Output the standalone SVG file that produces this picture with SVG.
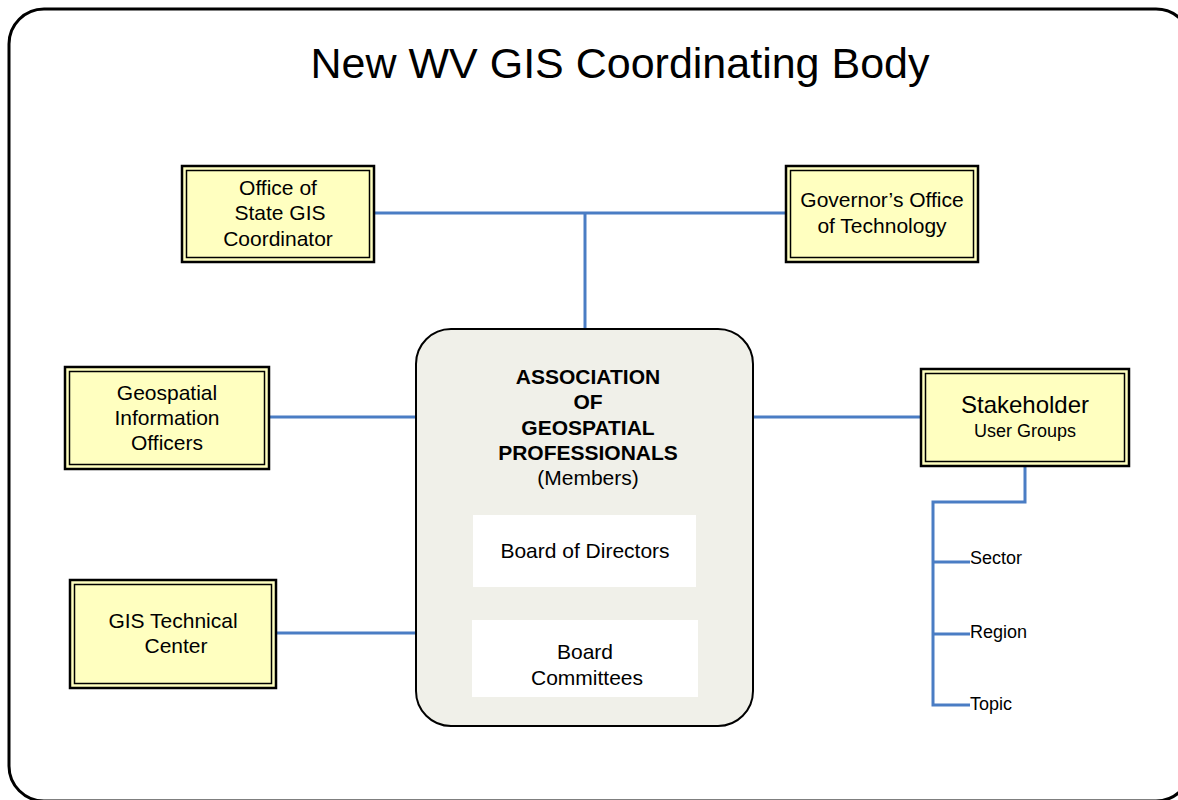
<svg xmlns="http://www.w3.org/2000/svg" width="1178" height="800" viewBox="0 0 1178 800">
<style>
  text { font-family: "Liberation Sans", Arial, sans-serif; fill: #000; }
  .t21 { font-size: 21px; text-anchor: middle; }
  .b21 { font-size: 21px; text-anchor: middle; font-weight: bold; }
  .lbl { font-size: 18px; }
  .outer { fill: #FFFFC0; stroke: #000; stroke-width: 2.5; }
  .inner { fill: none; stroke: #000; stroke-width: 1.5; }
  .conn { fill: none; stroke: #4A7DC4; stroke-width: 3; }
</style>
<rect x="9" y="9" width="1182" height="792" rx="35" ry="35" fill="#fff" stroke="#000" stroke-width="3"/>
<text x="620" y="78" style="font-size:43px;text-anchor:middle">New WV GIS Coordinating Body</text>

<g id="connectors">
  <path class="conn" d="M374 213 H786"/>
  <path class="conn" d="M585 213 V329"/>
  <path class="conn" d="M269 417 H416"/>
  <path class="conn" d="M276 633 H416"/>
  <path class="conn" d="M753 417 H921"/>
  <path class="conn" d="M1025 466 V502 H933 V705 H970"/>
  <path class="conn" d="M933 562 H970"/>
  <path class="conn" d="M933 634 H970"/>
</g>

<g id="office-state-gis">
  <rect class="outer" x="182" y="166" width="192" height="96"/>
  <rect class="inner" x="186.5" y="170.5" width="183" height="87"/>
  <text class="t21" x="278" y="194.5">Office of</text>
  <text class="t21" x="280" y="220">State GIS</text>
  <text class="t21" x="278" y="245.5">Coordinator</text>
</g>

<g id="governors-office">
  <rect class="outer" x="786" y="166" width="192" height="96"/>
  <rect class="inner" x="790.5" y="170.5" width="183" height="87"/>
  <text class="t21" x="882" y="206.5">Governor’s Office</text>
  <text class="t21" x="882" y="232.5">of Technology</text>
</g>

<g id="geospatial-officers">
  <rect class="outer" x="65" y="367" width="204" height="102"/>
  <rect class="inner" x="69.5" y="371.5" width="195" height="93"/>
  <text class="t21" x="167" y="399.5">Geospatial</text>
  <text class="t21" x="167" y="424.5">Information</text>
  <text class="t21" x="167" y="449.5">Officers</text>
</g>

<g id="gis-technical-center">
  <rect class="outer" x="70" y="580" width="206" height="108"/>
  <rect class="inner" x="74.5" y="584.5" width="197" height="99"/>
  <text class="t21" x="173" y="627.5">GIS Technical</text>
  <text class="t21" x="176" y="653">Center</text>
</g>

<g id="stakeholder">
  <rect class="outer" x="921" y="369" width="208" height="97"/>
  <rect class="inner" x="925.5" y="373.5" width="199" height="88"/>
  <text x="1025" y="413" style="font-size:24px;text-anchor:middle">Stakeholder</text>
  <text x="1025" y="437" style="font-size:18px;text-anchor:middle">User Groups</text>
</g>

<g id="association">
  <rect x="416" y="329" width="337" height="397" rx="35" ry="35" fill="#F0F0E9" stroke="#000" stroke-width="2"/>
  <text class="b21" x="588" y="383.5">ASSOCIATION</text>
  <text class="b21" x="588" y="408.5">OF</text>
  <text class="b21" x="588" y="434.5">GEOSPATIAL</text>
  <text class="b21" x="588" y="459.5">PROFESSIONALS</text>
  <text class="t21" x="588" y="485">(Members)</text>
</g>

<g id="board-of-directors">
  <rect x="473" y="515" width="223" height="72" fill="#fff"/>
  <text class="t21" x="585" y="557.5">Board of Directors</text>
</g>

<g id="board-committees">
  <rect x="472" y="620" width="226" height="77" fill="#fff"/>
  <text class="t21" x="585" y="658.5">Board</text>
  <text class="t21" x="587" y="684.5">Committees</text>
</g>

<g id="sector"><text class="lbl" x="970" y="564">Sector</text></g>
<g id="region"><text class="lbl" x="970" y="638">Region</text></g>
<g id="topic"><text class="lbl" x="970" y="710">Topic</text></g>
</svg>
